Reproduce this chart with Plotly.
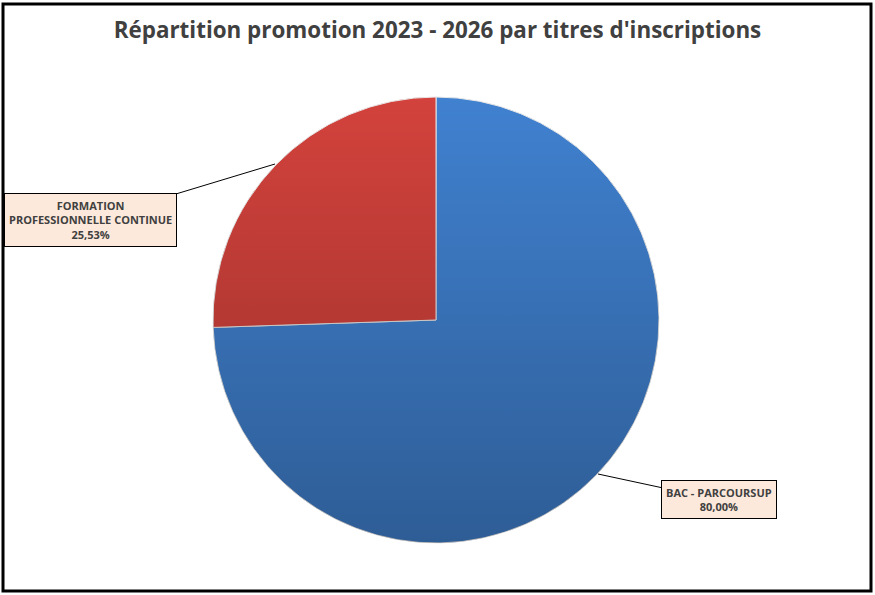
import base64
import plotly.graph_objects as go

# données
categories = ["BAC - PARCOURSUP", "FORMATION<br>PROFESSIONNELLE CONTINUE"]
parts = [74.47, 25.53]          # part réelle des secteurs
etiquettes = ["80,00%", "25,53%"]  # pourcentages affichés sur le graphique
couleurs = ["#4081D0", "#D3423C"]

W, H = 875, 595
cx, cy, r = 436, 320, 223

fig = go.Figure()
fig.add_trace(go.Pie(
    labels=categories, values=parts, sort=False, direction="clockwise",
    rotation=0, textinfo="none", hoverinfo="label+percent",
    marker=dict(colors=couleurs, line=dict(color="#E8E8E8", width=1)),
    domain=dict(x=[(cx - r) / W, (cx + r) / W], y=[1 - (cy + r) / H, 1 - (cy - r) / H]),
    showlegend=False,
))

# dégradé vertical façon Excel
svg = ('<svg xmlns="http://www.w3.org/2000/svg" viewBox="0 0 100 100">'
       '<defs><linearGradient id="g" x1="0" y1="0" x2="0" y2="1">'
       '<stop offset="0" stop-color="#000" stop-opacity="0"/>'
       '<stop offset="1" stop-color="#000" stop-opacity="0.28"/>'
       '</linearGradient></defs>'
       '<circle cx="50" cy="50" r="50" fill="url(#g)"/></svg>')
fig.add_layout_image(dict(
    source="data:image/svg+xml;base64," + base64.b64encode(svg.encode()).decode(),
    xref="paper", yref="paper", x=(cx - r) / W, y=1 - (cy - r) / H,
    sizex=2 * r / W, sizey=2 * r / H, sizing="stretch",
    xanchor="left", yanchor="top", layer="above",
))

# étiquettes avec traits de rappel
points = [(598, 474, 121, 26), (275, 164, -185, 56)]
for cat, txt, (px, py, ax, ay) in zip(categories, etiquettes, points):
    fig.add_annotation(
        x=px / W, y=1 - py / H, xref="paper", yref="paper",
        text=f"<b>{cat}<br>{txt}</b>", showarrow=True, arrowhead=0,
        arrowwidth=1, arrowcolor="black", ax=ax, ay=ay,
        font=dict(family="Open Sans", size=11, color="#404040"),
        bgcolor="#FDE9DB", bordercolor="black", borderwidth=1, borderpad=4,
        align="center",
    )

fig.add_shape(type="rect", xref="paper", yref="paper",
              x0=3 / W, x1=871 / W, y0=1 - 591 / H, y1=1 - 4 / H,
              line=dict(color="black", width=3))

fig.update_layout(
    width=W, height=H,
    margin=dict(l=0, r=0, t=0, b=0),
    paper_bgcolor="white", plot_bgcolor="white",
    title=dict(text="<b>Répartition promotion 2023 - 2026 par titres d'inscriptions</b>",
               x=0.5, xanchor="center", y=1 - 30 / H, yanchor="middle",
               font=dict(family="Open Sans", size=22.4, color="#404040")),
)

fig.write_html("out.html", config={"displayModeBar": False},
               post_script="document.body.style.margin = '0px';")
